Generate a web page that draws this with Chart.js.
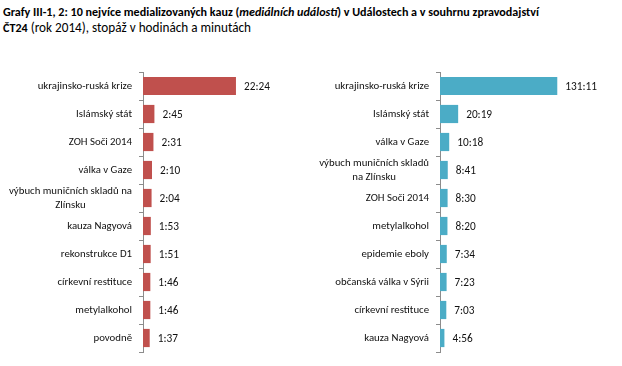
<!DOCTYPE html>
<html>
<head>
<meta charset="utf-8">
<script src="https://cdn.jsdelivr.net/npm/chart.js@4/dist/chart.umd.min.js"></script>
<style>
  html, body { margin: 0; padding: 0; background: #fff; }
  body { width: 622px; height: 366px; position: relative; overflow: hidden; font-family: Carlito, Lato, "Open Sans", sans-serif; }
  #title { position: absolute; left: 3px; top: 4px; font-size: 12.1px; line-height: 16px; color: #000; white-space: nowrap; }
  #title b { font-weight: bold; }
  #title .reg { font-size: 13.2px; }
  .wrap { position: absolute; top: 0; width: 311px; height: 366px; }
  #w1 { left: 0; }
  #w2 { left: 311px; }
</style>
</head>
<body>
<div id="title"><b>Grafy III-1, 2: 10 nejvíce medializovaných kauz (<i>mediálních událostí</i>) v Událostech a v souhrnu zpravodajství</b><br><b>ČT24</b><span class="reg"> (rok 2014), stopáž v hodinách a minutách</span></div>
<div class="wrap" id="w1"><canvas id="c1" width="311" height="366"></canvas></div>
<div class="wrap" id="w2"><canvas id="c2" width="311" height="366"></canvas></div>
<script>
// Data (values in minutes)
const udalostiCategories = [
  "ukrajinsko-ruská krize", "Islámský stát", "ZOH Soči 2014", "válka v Gaze",
  ["výbuch muničních skladů na", "Zlínsku"], "kauza Nagyová", "rekonstrukce D1",
  "církevní restituce", "metylalkohol", "povodně"
];
const udalostiMinutes = [1344, 165, 151, 130, 124, 113, 111, 106, 106, 97];

const ct24Categories = [
  "ukrajinsko-ruská krize", "Islámský stát", "válka v Gaze",
  ["výbuch muničních skladů", "na Zlínsku"], "ZOH Soči 2014", "metylalkohol",
  "epidemie eboly", "občanská válka v Sýrii", "církevní restituce", "kauza Nagyová"
];
const ct24Minutes = [7871, 1219, 618, 521, 510, 500, 454, 443, 423, 296];

const FONT = '10.8px Carlito, Lato, "Open Sans", sans-serif';
const VFONT = '11.3px Carlito, Lato, "Open Sans", sans-serif';

function fmt(m) {
  const h = Math.floor(m / 60), mm = m % 60;
  return h + ':' + (mm < 10 ? '0' : '') + mm;
}

const labelPlugin = {
  id: 'customLabels',
  afterDatasetsDraw(chart) {
    const ctx = chart.ctx;
    const meta = chart.getDatasetMeta(0);
    const ys = chart.scales.y;
    const values = chart.data.datasets[0].data;
    ctx.save();
    ctx.fillStyle = '#111';
    ctx.textBaseline = 'middle';
    ctx.textAlign = 'left';
    ctx.font = VFONT;
    meta.data.forEach((bar, i) => {
      ctx.fillText(fmt(values[i]), bar.x + 8, bar.y + 1);
    });
    ctx.font = FONT;
    const right = ys.right - 11;
    chart.data.labels.forEach((lab, i) => {
      const lines = Array.isArray(lab) ? lab : [lab];
      const yc = ys.getPixelForValue(i);
      const w = Math.max(...lines.map(l => ctx.measureText(l).width));
      const lh = 14;
      const y0 = yc - (lines.length - 1) * lh / 2;
      ctx.textAlign = 'center';
      lines.forEach((l, k) => ctx.fillText(l, right - w / 2, y0 + k * lh));
    });
    ctx.restore();
  }
};

function makeChart(id, labels, data, color, axisWidth, xMax, padRight) {
  return new Chart(document.getElementById(id), {
    type: 'bar',
    data: {
      labels: labels,
      datasets: [{
        data: data,
        backgroundColor: color,
        borderWidth: 0,
        categoryPercentage: 1,
        barPercentage: 0.65
      }]
    },
    options: {
      indexAxis: 'y',
      responsive: false,
      animation: false,
      events: [],
      layout: { padding: { top: 72, bottom: 14, left: 0, right: padRight } },
      plugins: { legend: { display: false }, tooltip: { enabled: false } },
      scales: {
        x: { display: false, min: 0, max: xMax },
        y: {
          offset: true,
          border: { display: true, color: '#8c8c8c', width: 1 },
          grid: { display: true, drawOnChartArea: false, drawTicks: true, tickLength: 4, color: '#8c8c8c', offset: true },
          ticks: { display: false },
          afterFit(scale) { scale.width = axisWidth; }
        }
      }
    },
    plugins: [labelPlugin]
  });
}

makeChart('c1', udalostiCategories, udalostiMinutes, '#C0504D', 143, 2400, 2);
makeChart('c2', ct24Categories, ct24Minutes, '#4BACC6', 129, 10000, 33);
</script>
</body>
</html>
